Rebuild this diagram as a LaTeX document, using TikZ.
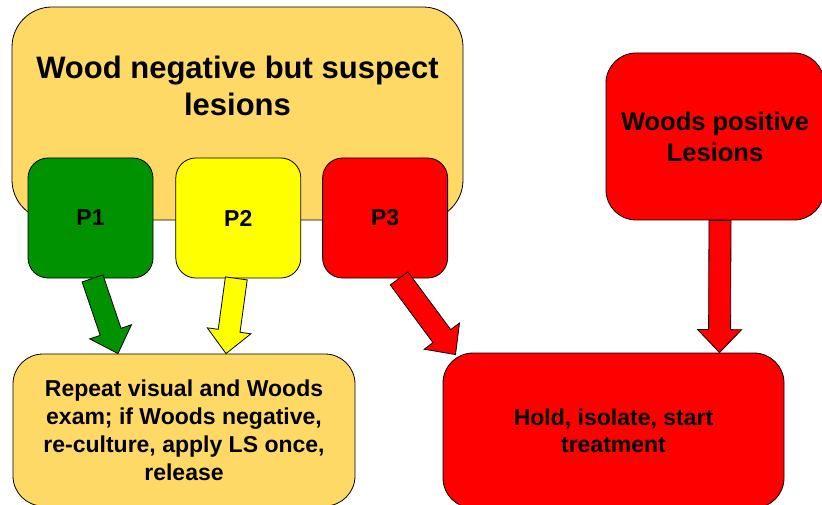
\documentclass[tikz,border=0pt]{standalone}
\usepackage{fontspec}
\setmainfont{Liberation Sans}
\usepackage{tikz}
\usetikzlibrary{positioning, calc}
\definecolor{suspectgold}{RGB}{255, 217, 102}
\definecolor{pgreen}{RGB}{0, 146, 0}
\definecolor{pyellow}{RGB}{255, 255, 0}
\definecolor{pred}{RGB}{255, 0, 0}

\tikzset{
    panel/.style={draw=black, line width=0.8pt, rounded corners=#1,
                  align=center, inner sep=0pt},
    panel/.default=30pt,
    pbox/.style={panel=20pt, minimum width=125pt, minimum height=120pt,
                 font=\bfseries\fontsize{23}{27}\selectfont},
    blockarrow/.style={draw=black, line width=0.8pt, line join=miter}
}

\begin{document}
\begin{tikzpicture}[x=1pt, y=-1pt]
    \useasboundingbox (0,0) rectangle (822,505);
    % top part
    \node[panel=40pt, fill=suspectgold, minimum width=451pt,
          minimum height=213pt] (susp) at (237.5,113.5) {};
    \node[font=\bfseries\fontsize{31}{37}\selectfont, align=center]
        (title) at ($(susp.north)+(0,79)$)
        {Wood negative but suspect\\lesions};
    \node[pbox, fill=pgreen] (p1) at (90.5,218) {P1};
    \node[pbox, fill=pyellow, right=22pt of p1] (p2) {P2};
    \node[pbox, fill=pred, right=21pt of p2] (p3) {P3};
    \node[panel, fill=pred, minimum width=218pt, minimum height=167pt,
          font=\bfseries\fontsize{25.5}{31}\selectfont]
        (wpos) at (715,136.5) {Woods positive\\Lesions};
    % bottom part
    \node[panel, fill=suspectgold, minimum width=342pt, minimum height=152pt,
          font=\bfseries\fontsize{23}{28}\selectfont]
        (act) at (184,430)
        {Repeat visual and Woods\\exam; if Woods negative,\\re-culture, apply LS once,\\release};
    \node[panel, fill=pred, minimum width=341pt, minimum height=155pt,
          font=\bfseries\fontsize{23}{27}\selectfont]
        (hold) at (613.5,430.5) {Hold, isolate, start\\treatment};
    % block arrows
    \coordinate (a1) at ($(p1.south)+(2,0)$);
    \coordinate (b1) at ($(act.north)+(-66,0)$);
    \coordinate (a2) at ($(p2.south)+(-2,0)$);
    \coordinate (b2) at ($(act.north)+(42,0)$);
    \coordinate (a3) at ($(p3.south)+(14,0)$);
    \coordinate (b3) at ($(hold.north)+(-158,2)$);
    \coordinate (a4) at ($(wpos.south)+(5,0)$);
    \coordinate (b4) at ($(hold.north)+(106,0)$);
    \foreach \a/\b/\c in {a1/b1/pgreen, a2/b2/pyellow, a3/b3/pred, a4/b4/pred}{
        \coordinate (hb) at ($(\b)!23pt!(\a)$);
        \draw[blockarrow, fill=\c]
            ($(\a)!11pt!90:(\b)$) -- ($(hb)!11pt!90:(\b)$)
            -- ($(hb)!22pt!90:(\b)$) -- (\b) -- ($(hb)!22pt!-90:(\b)$)
            -- ($(hb)!11pt!-90:(\b)$) -- ($(\a)!11pt!-90:(\b)$) -- cycle;
    }
\end{tikzpicture}
\end{document}
